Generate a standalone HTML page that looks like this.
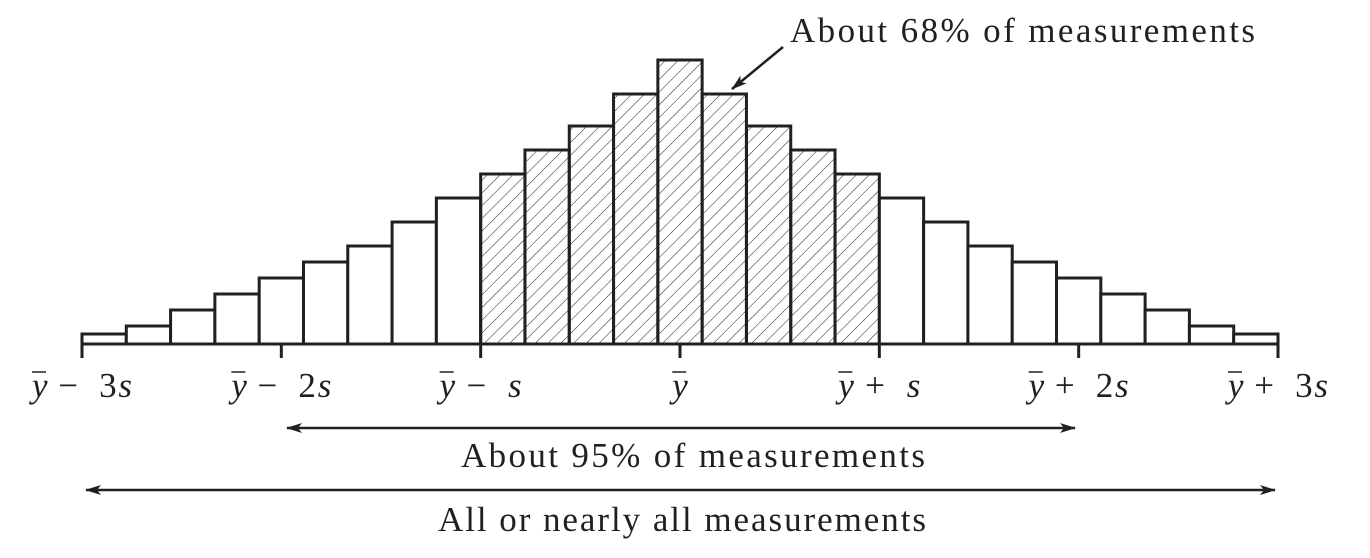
<!DOCTYPE html>
<html><head><meta charset="utf-8"><style>
html,body{margin:0;padding:0;background:#fff;}
svg{display:block;}
text{font-family:"Liberation Serif",serif;fill:#231f20;}
</style></head><body>
<svg id="chart" width="1370" height="558" viewBox="0 0 1370 558" xmlns="http://www.w3.org/2000/svg">
<defs>
<pattern id="hatch" patternUnits="userSpaceOnUse" width="9" height="9" patternTransform="rotate(45)">
<line x1="0" y1="0" x2="0" y2="9" stroke="#231f20" stroke-width="1"/>
</pattern>
<marker id="ah" markerWidth="16" markerHeight="10" refX="15" refY="5" orient="auto-start-reverse" markerUnits="userSpaceOnUse">
<path d="M0,0 L16,5 L0,10 L4,5 Z" fill="#231f20"/>
</marker>
</defs>
<g id="bars"></g>
<g id="axis"></g>
<line x1="783" y1="47" x2="732" y2="89" stroke="#231f20" stroke-width="2.5" marker-end="url(#ah)"/>
<text x="790" y="42" font-size="35" textLength="465" lengthAdjust="spacing">About 68% of measurements</text>
<line x1="287" y1="428" x2="1075" y2="428" stroke="#231f20" stroke-width="2.5" marker-start="url(#ah)" marker-end="url(#ah)"/>
<text x="461" y="467" font-size="35" textLength="464" lengthAdjust="spacing">About 95% of measurements</text>
<line x1="86" y1="490" x2="1275" y2="490" stroke="#231f20" stroke-width="2.5" marker-start="url(#ah)" marker-end="url(#ah)"/>
<text x="438" y="531" font-size="35" textLength="488" lengthAdjust="spacing">All or nearly all measurements</text>
</svg>
<script>
const heights = [10,18,34,50,66,82,98,122,146,170,194,218,250,284,250,218,194,170,146,122,98,82,66,50,34,18,10];
const shaded = [0,0,0,0,0,0,0,0,0,1,1,1,1,1,1,1,1,1,0,0,0,0,0,0,0,0,0];
const tickSigmas = [-3,-2,-1,0,1,2,3];
const tickLabels = ["\u2212 3s","\u2212 2s","\u2212 s","","+ s","+ 2s","+ 3s"];
const NS="http://www.w3.org/2000/svg";
const x0=82, x1=1278, base=344;
const bw=(x1-x0)/heights.length;
const xSig=s=>680+s*(x1-x0)/6;
const yv=v=>base-v;
const gb=document.getElementById('bars');
heights.forEach((h,i)=>{
  const r=document.createElementNS(NS,'rect');
  r.setAttribute('x',x0+i*bw);r.setAttribute('y',yv(h));
  r.setAttribute('width',bw);r.setAttribute('height',h);
  r.setAttribute('fill',shaded[i]?'url(#hatch)':'#fff');
  r.setAttribute('stroke','#231f20');r.setAttribute('stroke-width','3');
  
  
  gb.appendChild(r);
});
const ga=document.getElementById('axis');
const al=document.createElementNS(NS,'line');
al.setAttribute('x1',x0);al.setAttribute('x2',x1);al.setAttribute('y1',base);al.setAttribute('y2',base);
al.setAttribute('stroke','#231f20');al.setAttribute('stroke-width','3');


ga.appendChild(al);
tickSigmas.forEach((s,i)=>{
  const x=xSig(s);
  const t=document.createElementNS(NS,'line');
  t.setAttribute('x1',x);t.setAttribute('x2',x);t.setAttribute('y1',base);t.setAttribute('y2',base+14);
  t.setAttribute('stroke','#231f20');t.setAttribute('stroke-width','3');
  
  
  ga.appendChild(t);
  const tx=document.createElementNS(NS,'text');
  tx.setAttribute('x',x);tx.setAttribute('y',397);tx.setAttribute('font-size','35');
  tx.setAttribute('text-anchor','middle');
  
  
  const y=document.createElementNS(NS,'tspan');y.setAttribute('font-style','italic');y.textContent='y';
  tx.appendChild(y);
  if(tickLabels[i]){
    const parts=tickLabels[i].split('s');
    const p=document.createElementNS(NS,'tspan');p.textContent='\u2009'+parts[0].replace(' ','\u2002');tx.appendChild(p);
    const sv=document.createElementNS(NS,'tspan');sv.setAttribute('font-style','italic');sv.textContent='s';tx.appendChild(sv);
    tx.setAttribute('textLength', parts[0].length>2 ? 100 : 82);
    tx.setAttribute('lengthAdjust','spacing');
  }
  ga.appendChild(tx);
  const bb=tx.getBBox();
  const ol=document.createElementNS(NS,'line');
  ol.setAttribute('x1',bb.x+3);ol.setAttribute('x2',bb.x+17);ol.setAttribute('y1',372);ol.setAttribute('y2',372);
  ol.setAttribute('stroke','#231f20');ol.setAttribute('stroke-width','1.5');
  
  
  ga.appendChild(ol);
});
</script>
</body></html>
